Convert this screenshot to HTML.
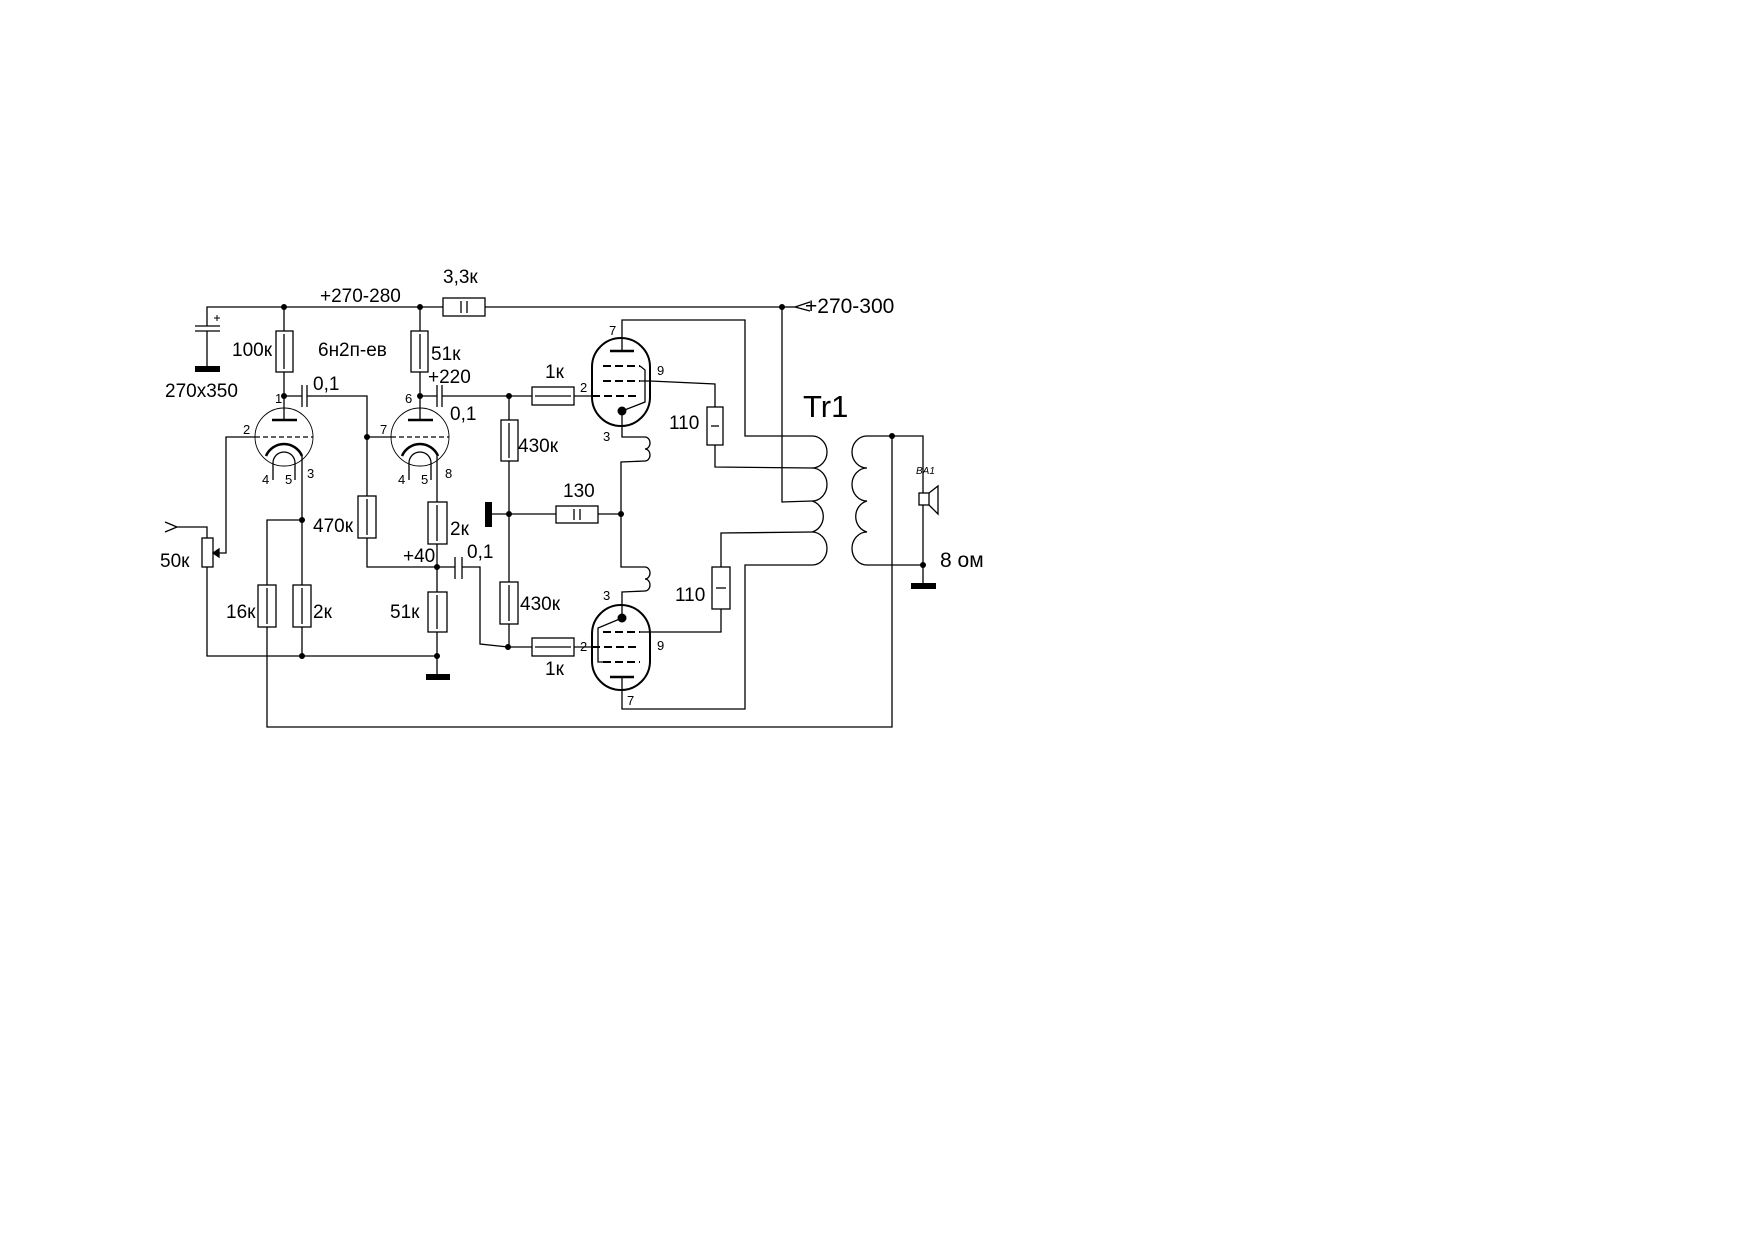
<!DOCTYPE html>
<html><head><meta charset="utf-8"><style>
html,body{margin:0;padding:0;background:#fff}
svg{display:block}
text{font-family:"Liberation Sans",Arial,sans-serif;fill:#000}
</style></head><body>
<svg width="1754" height="1240" viewBox="0 0 1754 1240" xmlns="http://www.w3.org/2000/svg">
<g fill="none" stroke="#000" stroke-width="1.3">
<polyline points="207,326 207,307 443,307"/>
<line x1="485" y1="307" x2="782" y2="307"/>
<path d="M795,307 L810,302 M795,307 L810,311"/>
<line x1="782" y1="307" x2="795" y2="307"/>
<line x1="195" y1="326" x2="220" y2="326"/><line x1="195" y1="331" x2="220" y2="331"/>
<line x1="207" y1="331" x2="207" y2="366"/>
<path d="M214,318 L220,318 M217,315 L217,321" stroke-width="1"/>
<rect x="443" y="298" width="42" height="18"/><line x1="461" y1="301" x2="461" y2="313"/><line x1="467" y1="301" x2="467" y2="313"/>
<line x1="284" y1="307" x2="284" y2="331"/><rect x="276" y="331" width="17" height="41"/><line x1="284" y1="334" x2="284" y2="369"/>
<line x1="284" y1="372" x2="284" y2="420"/>
<line x1="272" y1="420" x2="297" y2="420" stroke-width="2.5"/>
<line x1="284" y1="396" x2="302" y2="396"/>
<line x1="302" y1="385" x2="302" y2="407"/><line x1="307" y1="385" x2="307" y2="407"/>
<polyline points="307,396 367,396 367,496"/>
<circle cx="284" cy="437" r="29" stroke-width="0.9"/>
<line x1="255" y1="437" x2="313" y2="437" stroke-dasharray="5,3"/>
<polyline points="255,437 226,437 226,553 216,553"/>
<path d="M213,553 L219,549 L219,557 Z" fill="#000"/>
<path d="M266,456 A19.5,19.5 0 0 1 302,456" stroke-width="2.5"/>
<path d="M273,480 L273,463 A11,11 0 0 1 295,463 L295,480"/>
<line x1="302" y1="456" x2="302" y2="656"/>
<line x1="420" y1="307" x2="420" y2="331"/><rect x="411" y="331" width="17" height="41"/><line x1="420" y1="334" x2="420" y2="369"/>
<line x1="420" y1="372" x2="420" y2="420"/>
<line x1="408" y1="420" x2="433" y2="420" stroke-width="2.5"/>
<line x1="420" y1="396" x2="437" y2="396"/>
<line x1="437" y1="385" x2="437" y2="407"/><line x1="442" y1="385" x2="442" y2="407"/>
<line x1="442" y1="396" x2="532" y2="396"/>
<circle cx="420" cy="437" r="29" stroke-width="0.9"/>
<line x1="367" y1="437" x2="391" y2="437"/>
<line x1="391" y1="437" x2="449" y2="437" stroke-dasharray="5,3"/>
<path d="M402,456 A19.5,19.5 0 0 1 438,456" stroke-width="2.5"/>
<path d="M409,480 L409,463 A11,11 0 0 1 431,463 L431,480"/>
<line x1="437" y1="456" x2="437" y2="502"/>
<rect x="428" y="502" width="19" height="42"/><line x1="437" y1="505" x2="437" y2="541"/>
<line x1="437" y1="544" x2="437" y2="592"/>
<rect x="428" y="592" width="19" height="40"/><line x1="437" y1="595" x2="437" y2="629"/>
<line x1="437" y1="632" x2="437" y2="677"/>
<rect x="358" y="496" width="18" height="42"/><line x1="367" y1="499" x2="367" y2="535"/>
<polyline points="367,538 367,567 455,567"/>
<line x1="455" y1="557" x2="455" y2="579"/><line x1="462" y1="557" x2="462" y2="579"/>
<polyline points="462,567 480,567 480,644 508,647 532,647"/>
<polyline points="177,527 207,527 207,538"/>
<path d="M165,522 L177,527 L165,532"/>
<rect x="202" y="538" width="11" height="29"/>
<polyline points="207,567 207,656 437,656"/>
<polyline points="302,520 267,520 267,585"/>
<rect x="258" y="585" width="18" height="42"/><line x1="267" y1="588" x2="267" y2="624"/>
<polyline points="267,627 267,727 892,727 892,437"/>
<rect x="293" y="585" width="18" height="42" fill="#fff"/><line x1="302" y1="588" x2="302" y2="624"/>
<line x1="509" y1="396" x2="509" y2="647"/>
<rect x="501" y="420" width="17" height="41" fill="#fff"/><line x1="509" y1="423" x2="509" y2="458"/>
<rect x="500" y="582" width="18" height="42" fill="#fff"/><line x1="509" y1="585" x2="509" y2="621"/>
<line x1="492" y1="514" x2="556" y2="514"/>
<rect x="556" y="506" width="42" height="17"/><line x1="574" y1="509" x2="574" y2="520"/><line x1="580" y1="509" x2="580" y2="520"/>
<line x1="598" y1="514" x2="621" y2="514"/>
<rect x="532" y="387" width="42" height="18"/><line x1="535" y1="396" x2="571" y2="396"/>
<line x1="574" y1="396" x2="592" y2="396"/>
<rect x="532" y="638" width="42" height="18"/><line x1="535" y1="647" x2="571" y2="647"/>
<line x1="574" y1="647" x2="592" y2="647"/>
<rect x="592" y="338" width="58" height="88" rx="29" ry="29" stroke-width="2"/>
<polyline points="622,351 622,320 745,320 745,436 812,436"/>
<line x1="610" y1="351" x2="634" y2="351" stroke-width="2.5"/>
<g stroke-width="2" stroke-dasharray="8,4"><line x1="603" y1="366" x2="640" y2="366"/><line x1="603" y1="381" x2="640" y2="381"/><line x1="592" y1="396" x2="640" y2="396"/></g>
<polyline points="640,366 645,370 645,402 622,411"/>
<polyline points="640,381 650,381 715,384 715,407"/>
<rect x="707" y="407" width="16" height="38"/><line x1="711" y1="426" x2="719" y2="426"/>
<polyline points="715,445 715,467 812,468"/>
<polyline points="622,411 622,437 645,437"/>
<path d="M645,437 A5,6 0 0 1 645,449 A5,6 0 0 1 645,461"/>
<polyline points="645,461 621,462 621,567 645,567"/>
<path d="M645,567 A5,6 0 0 1 645,579 A5,6 0 0 1 645,591"/>
<polyline points="645,591 622,592 622,618"/>
<rect x="592" y="605" width="58" height="85" rx="29" ry="29" stroke-width="2"/>
<g stroke-width="2" stroke-dasharray="8,4"><line x1="603" y1="632" x2="640" y2="632"/><line x1="592" y1="647" x2="640" y2="647"/><line x1="603" y1="662" x2="640" y2="662"/></g>
<polyline points="622,618 598,628 598,662 603,662"/>
<polyline points="650,632 721,632 721,609"/>
<line x1="640" y1="632" x2="650" y2="632"/>
<line x1="610" y1="677" x2="634" y2="677" stroke-width="2.5"/>
<polyline points="622,677 622,709 745,709 745,565 812,565"/>
<rect x="712" y="567" width="18" height="42"/><line x1="716" y1="588" x2="726" y2="588"/>
<polyline points="721,567 721,533 812,532"/>
<polyline points="782,307 782,502 812,501"/>
<path d="M812,436 A15,16 0 0 1 812,468 A15,16.5 0 0 1 812,501 A15,16 0 0 1 812,532 A15,16.5 0 0 1 812,565"/>
<path d="M867,436 A15,16 0 0 0 867,468 A15,16.5 0 0 0 867,501 A15,16 0 0 0 867,532 A15,16.5 0 0 0 867,565"/>
<polyline points="867,436 923,436 923,493"/>
<polyline points="867,565 923,565 923,505"/>
<line x1="923" y1="565" x2="923" y2="583"/>
<rect x="919" y="493" width="10" height="12"/>
<polyline points="929,493 938,486 938,514 929,505"/>
</g>
<g fill="#000">
<rect x="195" y="366" width="25" height="6"/>
<rect x="426" y="674" width="24" height="6"/>
<rect x="485" y="502" width="7" height="25"/>
<rect x="911" y="583" width="25" height="6"/>
<circle cx="284" cy="307" r="3"/><circle cx="420" cy="307" r="3"/><circle cx="782" cy="307" r="3"/>
<circle cx="284" cy="396" r="3"/><circle cx="420" cy="396" r="3"/><circle cx="509" cy="396" r="3"/>
<circle cx="367" cy="437" r="3"/><circle cx="302" cy="520" r="3"/>
<circle cx="509" cy="514" r="3"/><circle cx="621" cy="514" r="3"/>
<circle cx="437" cy="567" r="3"/><circle cx="508" cy="647" r="3"/>
<circle cx="302" cy="656" r="3"/><circle cx="437" cy="656" r="3"/>
<circle cx="622" cy="411" r="4.5"/><circle cx="622" cy="618" r="4.5"/>
<circle cx="892" cy="436" r="3"/><circle cx="923" cy="565" r="3"/>
</g>
<g font-size="19">
<text x="320" y="302">+270-280</text>
<text x="443" y="283">3,3к</text>
<text x="805" y="313" font-size="21">+270-300</text>
<text x="232" y="356">100к</text>
<text x="318" y="356">6н2п-ев</text>
<text x="431" y="360">51к</text>
<text x="165" y="397">270x350</text>
<text x="313" y="390">0,1</text>
<text x="428" y="383">+220</text>
<text x="450" y="420">0,1</text>
<text x="545" y="378">1к</text>
<text x="518" y="452">430к</text>
<text x="563" y="497">130</text>
<text x="313" y="532">470к</text>
<text x="450" y="535">2к</text>
<text x="160" y="567">50к</text>
<text x="403" y="562">+40</text>
<text x="467" y="558">0,1</text>
<text x="226" y="618">16к</text>
<text x="313" y="618">2к</text>
<text x="390" y="618">51к</text>
<text x="520" y="610">430к</text>
<text x="545" y="675">1к</text>
<text x="669" y="429">110</text>
<text x="675" y="601">110</text>
<text x="940" y="567" font-size="21">8 ом</text>
<text x="803" y="417" font-size="31">Tr1</text>
</g>
<g font-size="13">
<text x="275" y="403">1</text><text x="243" y="434">2</text>
<text x="262" y="484">4</text><text x="285" y="484">5</text><text x="307" y="478">3</text>
<text x="405" y="403">6</text><text x="380" y="434">7</text>
<text x="398" y="484">4</text><text x="421" y="484">5</text><text x="445" y="478">8</text>
<text x="609" y="335">7</text><text x="657" y="375">9</text><text x="580" y="392">2</text><text x="603" y="441">3</text>
<text x="603" y="600">3</text><text x="580" y="651">2</text><text x="657" y="650">9</text><text x="627" y="705">7</text>
</g>
<text x="916" y="474" font-size="10" font-style="italic">BA1</text>
</svg>
</body></html>
